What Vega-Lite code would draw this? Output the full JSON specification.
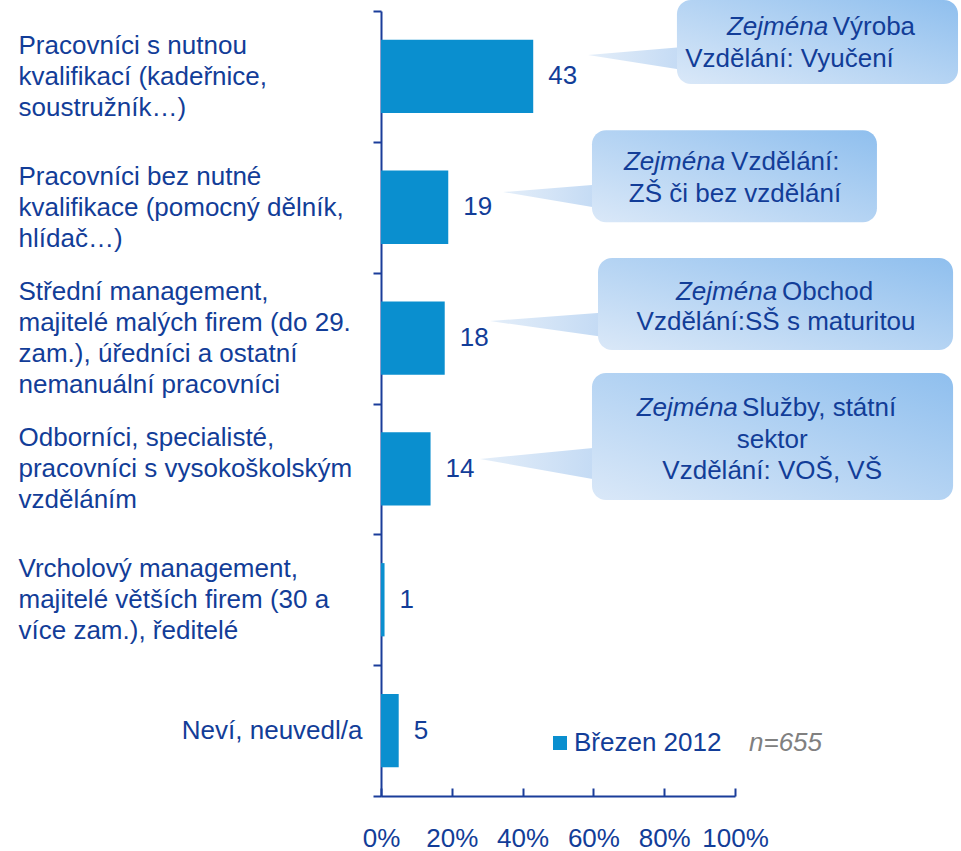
{
  "$schema": "https://vega.github.io/schema/vega-lite/v6.json",
  "width": 354,
  "height": 785,
  "autosize": {"type": "none"},
  "padding": {"left": 381, "top": 11, "right": 226, "bottom": 55},
  "config": {
    "view": {"stroke": null},
    "font": "Liberation Sans",
    "text": {"font": "Liberation Sans", "fontSize": 26, "color": "#123d98"}
  },
  "data": {
    "values": [
      {"category": "Pracovníci s nutnou\nkvalifikací (kadeřnice,\nsoustružník…)", "share": 43, "lead": "Zejména", "head": "Výroba", "body": "Vzdělání: Vyučení"},
      {"category": "Pracovníci bez nutné\nkvalifikace (pomocný dělník,\nhlídač…)", "share": 19, "lead": "Zejména", "head": "Vzdělání:", "body": "ZŠ či bez vzdělání"},
      {"category": "Střední management,\nmajitelé malých firem (do 29.\nzam.), úředníci a ostatní\nnemanuální pracovníci", "share": 18, "lead": "Zejména", "head": "Obchod", "body": "Vzdělání:SŠ s maturitou"},
      {"category": "Odborníci, specialisté,\npracovníci s vysokoškolským\nvzděláním", "share": 14, "lead": "Zejména", "head": "Služby, státní", "body": "sektor\nVzdělání: VOŠ, VŠ"},
      {"category": "Vrcholový management,\nmajitelé větších firem (30 a\nvíce zam.), ředitelé", "share": 1},
      {"category": "Neví, neuvedl/a", "share": 5}
    ]
  },
  "layer": [
    {
      "mark": {"type": "bar", "height": {"band": 0.56}},
      "encoding": {
        "y": {
          "field": "category", "type": "nominal", "sort": null, "title": null,
          "scale": {"paddingInner": 0, "paddingOuter": 0},
          "axis": {
            "domainColor": "#1a3d9a", "domainWidth": 2,
            "tickColor": "#1a3d9a", "tickWidth": 2, "tickSize": 8, "tickBand": "extent",
            "labelExpr": "split(datum.label, '\\n')",
            "labelFontSize": 26, "labelColor": "#123d98", "labelLineHeight": 31,
            "labelLimit": 400, "labelBound": false, "labelOverlap": false,
            "labelBaseline": {"condition": {"test": "datum.value === 'Střední management,\\nmajitelé malých firem (do 29.\\nzam.), úředníci a ostatní\\nnemanuální pracovníci'", "value": "line-bottom"}, "value": "middle"},
            "labelAlign": {"condition": {"test": "datum.value === 'Neví, neuvedl/a'", "value": "right"}, "value": "left"},
            "labelPadding": {"condition": {"test": "datum.value === 'Neví, neuvedl/a'", "value": 11}, "value": 355},
            "labelOffset": {"condition": {"test": "datum.value === 'Neví, neuvedl/a'", "value": 0}, "value": -31},
            "grid": false
          }
        },
        "x": {
          "field": "share", "type": "quantitative", "title": null,
          "scale": {"domain": [0, 100], "nice": false},
          "axis": {
            "values": [0, 20, 40, 60, 80, 100],
            "labelExpr": "datum.value + '%'",
            "domainColor": "#1a3d9a", "domainWidth": 2,
            "tickColor": "#1a3d9a", "tickWidth": 2, "tickSize": -8,
            "labelFontSize": 26, "labelColor": "#123d98", "labelPadding": 50,
            "labelBaseline": "middle", "labelFlush": false, "labelOverlap": false, "labelBound": false,
            "grid": false
          }
        },
        "color": {
          "datum": "Březen 2012", "type": "nominal",
          "scale": {"range": ["#0a8fcf"]},
          "legend": {
            "orient": "none", "legendX": 166, "legendY": 719,
            "symbolType": "square", "symbolSize": 196, "symbolStrokeWidth": 0,
            "labelFontSize": 26, "labelColor": "#123d98", "labelOffset": 1, "labelLimit": 400,
            "title": "n=655", "titleOrient": "right", "titleFontSize": 26, "titleFontStyle": "italic",
            "titleFontWeight": "normal", "titleColor": "#808080", "titlePadding": 28, "titleBaseline": "middle"
          }
        }
      }
    },
    {
      "mark": {"type": "text", "align": "left", "baseline": "middle", "dx": 15},
      "encoding": {
        "y": {"field": "category", "type": "nominal", "sort": null, "title": null},
        "x": {"field": "share", "type": "quantitative", "title": null},
        "text": {"field": "share", "type": "quantitative"}
      }
    },
    {
      "transform": [{"filter": "datum.head === 'Výroba'"}],
      "encoding": {"y": {"field": "category", "type": "nominal", "sort": null, "title": null}},
      "layer": [
        {"mark": {"type": "point", "filled": true, "size": 4, "strokeWidth": 0, "opacity": 1, "yOffset": -21.4, "shape": "M0,0 L95,-8 L95,15 Z",
          "fill": {"gradient": "linear", "x1": 0, "y1": 0, "x2": 1, "y2": 0, "stops": [{"offset": 0, "color": "#e4eef9"}, {"offset": 1, "color": "#c3daf4"}]}},
         "encoding": {"x": {"datum": 58.5, "type": "quantitative", "title": null}}},
        {"mark": {"type": "bar", "height": 84, "yOffset": -34.4, "cornerRadius": 14,
          "color": {"gradient": "linear", "x1": 0, "y1": 1, "x2": 1, "y2": 0, "stops": [{"offset": 0, "color": "#dae8f8"}, {"offset": 1, "color": "#8fbfee"}]}},
         "encoding": {"x": {"datum": 83.6, "type": "quantitative", "title": null}, "x2": {"datum": 163}}},
        {"mark": {"type": "text", "align": "right", "baseline": "middle", "fontStyle": "italic", "yOffset": -49},
         "encoding": {"x": {"datum": 126.3, "type": "quantitative", "title": null}, "text": {"field": "lead"}}},
        {"mark": {"type": "text", "align": "left", "baseline": "middle", "yOffset": -49},
         "encoding": {"x": {"datum": 127.6, "type": "quantitative", "title": null}, "text": {"field": "head"}}},
        {"mark": {"type": "text", "align": "center", "baseline": "middle", "yOffset": -17, "lineBreak": "\n", "lineHeight": 31},
         "encoding": {"x": {"datum": 115.4, "type": "quantitative", "title": null}, "text": {"field": "body"}}}
      ]
    },
    {
      "transform": [{"filter": "datum.head === 'Vzdělání:'"}],
      "encoding": {"y": {"field": "category", "type": "nominal", "sort": null, "title": null}},
      "layer": [
        {"mark": {"type": "point", "filled": true, "size": 4, "strokeWidth": 0, "opacity": 1, "yOffset": -15.2, "shape": "M0,0 L95,-7.5 L95,16 Z",
          "fill": {"gradient": "linear", "x1": 0, "y1": 0, "x2": 1, "y2": 0, "stops": [{"offset": 0, "color": "#e4eef9"}, {"offset": 1, "color": "#c3daf4"}]}},
         "encoding": {"x": {"datum": 34.5, "type": "quantitative", "title": null}}},
        {"mark": {"type": "bar", "height": 92, "yOffset": -31, "cornerRadius": 14,
          "color": {"gradient": "linear", "x1": 0, "y1": 1, "x2": 1, "y2": 0, "stops": [{"offset": 0, "color": "#dae8f8"}, {"offset": 1, "color": "#8fbfee"}]}},
         "encoding": {"x": {"datum": 59.6, "type": "quantitative", "title": null}, "x2": {"datum": 140.1}}},
        {"mark": {"type": "text", "align": "right", "baseline": "middle", "fontStyle": "italic", "yOffset": -45},
         "encoding": {"x": {"datum": 97.2, "type": "quantitative", "title": null}, "text": {"field": "lead"}}},
        {"mark": {"type": "text", "align": "left", "baseline": "middle", "yOffset": -45},
         "encoding": {"x": {"datum": 98.9, "type": "quantitative", "title": null}, "text": {"field": "head"}}},
        {"mark": {"type": "text", "align": "center", "baseline": "middle", "yOffset": -13, "lineBreak": "\n", "lineHeight": 31},
         "encoding": {"x": {"datum": 100.0, "type": "quantitative", "title": null}, "text": {"field": "body"}}}
      ]
    },
    {
      "transform": [{"filter": "datum.head === 'Obchod'"}],
      "encoding": {"y": {"field": "category", "type": "nominal", "sort": null, "title": null}},
      "layer": [
        {"mark": {"type": "point", "filled": true, "size": 4, "strokeWidth": 0, "opacity": 1, "yOffset": -17, "shape": "M0,0 L114,-8.5 L114,16 Z",
          "fill": {"gradient": "linear", "x1": 0, "y1": 0, "x2": 1, "y2": 0, "stops": [{"offset": 0, "color": "#e4eef9"}, {"offset": 1, "color": "#c3daf4"}]}},
         "encoding": {"x": {"datum": 30.8, "type": "quantitative", "title": null}}},
        {"mark": {"type": "bar", "height": 92, "yOffset": -34, "cornerRadius": 14,
          "color": {"gradient": "linear", "x1": 0, "y1": 1, "x2": 1, "y2": 0, "stops": [{"offset": 0, "color": "#dae8f8"}, {"offset": 1, "color": "#8fbfee"}]}},
         "encoding": {"x": {"datum": 61.3, "type": "quantitative", "title": null}, "x2": {"datum": 161.6}}},
        {"mark": {"type": "text", "align": "right", "baseline": "middle", "fontStyle": "italic", "yOffset": -46},
         "encoding": {"x": {"datum": 111.9, "type": "quantitative", "title": null}, "text": {"field": "lead"}}},
        {"mark": {"type": "text", "align": "left", "baseline": "middle", "yOffset": -46},
         "encoding": {"x": {"datum": 113.3, "type": "quantitative", "title": null}, "text": {"field": "head"}}},
        {"mark": {"type": "text", "align": "center", "baseline": "middle", "yOffset": -16, "lineBreak": "\n", "lineHeight": 31},
         "encoding": {"x": {"datum": 111.6, "type": "quantitative", "title": null}, "text": {"field": "body"}}}
      ]
    },
    {
      "transform": [{"filter": "datum.head === 'Služby, státní'"}],
      "encoding": {"y": {"field": "category", "type": "nominal", "sort": null, "title": null}},
      "layer": [
        {"mark": {"type": "point", "filled": true, "size": 4, "strokeWidth": 0, "opacity": 1, "yOffset": -10, "shape": "M0,0 L118,-11.5 L118,21 Z",
          "fill": {"gradient": "linear", "x1": 0, "y1": 0, "x2": 1, "y2": 0, "stops": [{"offset": 0, "color": "#e4eef9"}, {"offset": 1, "color": "#c3daf4"}]}},
         "encoding": {"x": {"datum": 28.0, "type": "quantitative", "title": null}}},
        {"mark": {"type": "bar", "height": 127, "yOffset": -32.4, "cornerRadius": 14,
          "color": {"gradient": "linear", "x1": 0, "y1": 1, "x2": 1, "y2": 0, "stops": [{"offset": 0, "color": "#dae8f8"}, {"offset": 1, "color": "#8fbfee"}]}},
         "encoding": {"x": {"datum": 59.6, "type": "quantitative", "title": null}, "x2": {"datum": 161.6}}},
        {"mark": {"type": "text", "align": "right", "baseline": "middle", "fontStyle": "italic", "yOffset": -61},
         "encoding": {"x": {"datum": 100.8, "type": "quantitative", "title": null}, "text": {"field": "lead"}}},
        {"mark": {"type": "text", "align": "left", "baseline": "middle", "yOffset": -61},
         "encoding": {"x": {"datum": 102.0, "type": "quantitative", "title": null}, "text": {"field": "head"}}},
        {"mark": {"type": "text", "align": "center", "baseline": "middle", "yOffset": -29, "lineBreak": "\n", "lineHeight": 31},
         "encoding": {"x": {"datum": 110.5, "type": "quantitative", "title": null}, "text": {"field": "body"}}}
      ]
    }
  ]
}
